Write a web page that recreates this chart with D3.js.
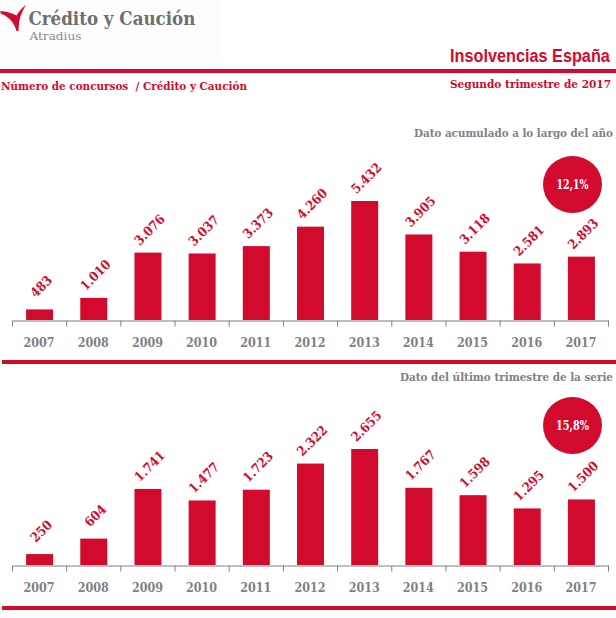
<!DOCTYPE html>
<html><head><meta charset="utf-8">
<script src="https://d3js.org/d3.v7.min.js"></script>
<style>
html,body{margin:0;padding:0;background:#fff}
svg{display:block}
text{font-family:"DejaVu Serif Condensed","DejaVu Serif",serif;font-weight:bold;font-stretch:condensed}
</style></head><body>
<svg id="c" width="616" height="618"></svg>
<script>
const years=["2007","2008","2009","2010","2011","2012","2013","2014","2015","2016","2017"];
const acumulado=[483,1010,3076,3037,3373,4260,5432,3905,3118,2581,2893];
const trimestre=[250,604,1741,1477,1723,2322,2655,1767,1598,1295,1500];
const acumuladoLabels=["483","1.010","3.076","3.037","3.373","4.260","5.432","3.905","3.118","2.581","2.893"];
const trimestreLabels=["250","604","1.741","1.477","1.723","2.322","2.655","1.767","1.598","1.295","1.500"];
const RED="#d20a2e",GREY="#7f8084";
const svg=d3.select("#c");

function txt(x,y,s,size,fill,anchor,width,family,weight){
  const t=svg.append("text").attr("x",x).attr("y",y).attr("font-size",size).attr("fill",fill)
    .attr("text-anchor",anchor||"start").text(s);
  if(width) t.attr("textLength",width).attr("lengthAdjust","spacingAndGlyphs");
  if(family) t.style("font-family",family);
  if(weight) t.style("font-weight",weight);
  return t;
}
// text squeezed to a target width by a transform, so its box stays true
function fit(x,y,s,size,fill,width,family){
  const t=svg.append("text").attr("font-size",size).attr("fill",fill).text(s);
  if(family) t.style("font-family",family);
  const k=width/t.node().getComputedTextLength();
  t.attr("transform",`translate(${x},${y}) scale(${k},1)`);
  return t;
}
function rule(x,y,w,h){svg.append("rect").attr("x",x).attr("y",y).attr("width",w).attr("height",h).attr("fill",RED);}

// logo
svg.append("rect").attr("x",0).attr("y",0).attr("width",220).attr("height",62).attr("fill","#fdfdfd");
svg.append("path").attr("fill",RED)
  .attr("d","M0.5,11 C6,11.5 12,13 16.5,15.5 C19,11.5 22,8 26,4.5 C23,10 20.5,15 19.5,20 C18.8,24 18.7,27 18.5,31 L16.5,31 C15,26 13,22.5 10,19.5 C7,16.5 4,14.5 0.5,13.5Z");
fit(28.5,25,"Crédito y Caución",19,"#6e6f71",167);
txt(29.5,39.8,"Atradius",10.8,"#8a8b8e","start",52,"'DejaVu Serif Condensed','DejaVu Serif',serif","normal");

// header
rule(0,69,616,4);
fit(450,62,"Insolvencias España",18,RED,160,"'Liberation Sans Narrow','Liberation Sans',sans-serif");
txt(1,90,"Número de concursos  / Crédito y Caución",11.5,RED,"start",246).attr("xml:space","preserve");
txt(450,88,"Segundo trimestre de  2017",11.5,RED,"start",161);

function panel(values,labels,base,plotH,maxV,title,tx,tw,ty,pct,cy,lineY,pctW){
  const x=d3.scaleBand().domain(years).range([12.5,608.5]).padding(0);
  const y=d3.scaleLinear().domain([0,maxV]).range([base,base-plotH]);
  const g=svg.append("g");
  g.selectAll("rect").data(values).join("rect")
    .attr("x",(d,i)=>x(years[i])+x.bandwidth()/2-13.5)
    .attr("width",27)
    .attr("y",d=>y(d)).attr("height",d=>base-y(d)).attr("fill",RED);
  const ax=svg.append("g").attr("transform",`translate(0,${base+0.5})`)
    .call(d3.axisBottom(x).tickSize(0).tickPadding(0).tickFormat(""));
  ax.select(".domain").attr("stroke",GREY).attr("stroke-width",1);
  ax.selectAll(".tick").remove();
  const edges=years.map(v=>x(v)).concat([x(years[10])+x.bandwidth()]);
  ax.selectAll("line.e").data(edges).join("line").attr("class","e")
    .attr("x1",d=>d).attr("x2",d=>d).attr("y1",0).attr("y2",6).attr("stroke",GREY);
  years.forEach((v,i)=>txt(x(v)+x.bandwidth()/2-0.5,base+27,v,12,GREY,"middle",31));
  labels.forEach((s,i)=>{
    const cx=x(years[i])+x.bandwidth()/2+1.5, ly=y(values[i])-23;
    svg.append("text").attr("font-size",13).attr("fill",RED).attr("text-anchor","middle")
      .attr("dy","0.36em")
      .attr("transform",`translate(${cx},${ly}) rotate(-45)`).text(s);
  });
  txt(tx,ty,title,11,GREY,"start",tw);
  svg.append("ellipse").attr("cx",572.5).attr("cy",cy).attr("rx",29.5).attr("ry",28.5).attr("fill",RED);
  txt(572.5,cy+4.5,pct,12,"#fff","middle",pctW);
  rule(2,lineY,614,4);
}
panel(acumulado,acumuladoLabels,320,119,5432,"Dato acumulado a lo largo del año",414,199,137,"12,1%",184.5,360,32);
panel(trimestre,trimestreLabels,565,116,2655,"Dato del último trimestre de la serie",400,213,381,"15,8%",425.5,606,33);
</script>
</body></html>
